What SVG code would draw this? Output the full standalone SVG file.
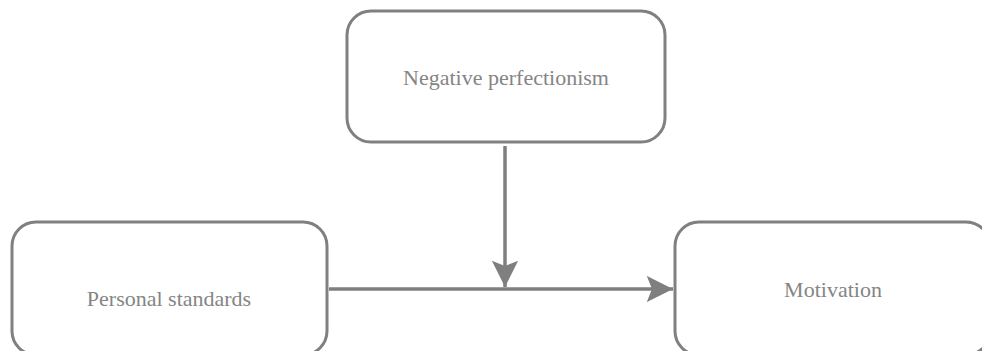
<svg xmlns="http://www.w3.org/2000/svg" width="982" height="351" viewBox="0 0 982 351">
<style>
.box{fill:#fff;stroke:#808080;stroke-width:3}
.lbl{font-family:'Liberation Serif','Times New Roman',serif;font-size:22px;fill:#858585;text-anchor:middle}
.conn{stroke:#7f7f7f;stroke-width:3.5;fill:none}
</style>
<defs>
<marker id="arr" viewBox="0 0 10 10" refX="10" refY="5" markerWidth="7.5" markerHeight="7.5" markerUnits="strokeWidth" orient="auto">
<path d="M0,0 L10,5 L0,10 L2,5 Z" fill="#7f7f7f"/>
</marker>
</defs>
<rect width="982" height="351" fill="#fff"/>
<g id="connectors">
<line class="conn" x1="329" y1="289" x2="673" y2="289" marker-end="url(#arr)"/>
<line class="conn" x1="505" y1="146" x2="505" y2="287" marker-end="url(#arr)"/>
</g>
<g id="node-negative">
<rect class="box" x="347" y="11" width="318" height="131" rx="24"/>
<text class="lbl" x="506" y="85">Negative perfectionism</text>
</g>
<g id="node-personal">
<rect class="box" x="12" y="222" width="315" height="133" rx="24"/>
<text class="lbl" x="169" y="306">Personal standards</text>
</g>
<g id="node-motivation">
<rect class="box" x="675" y="222" width="315" height="133" rx="24"/>
<text class="lbl" x="833" y="297">Motivation</text>
</g>
</svg>
